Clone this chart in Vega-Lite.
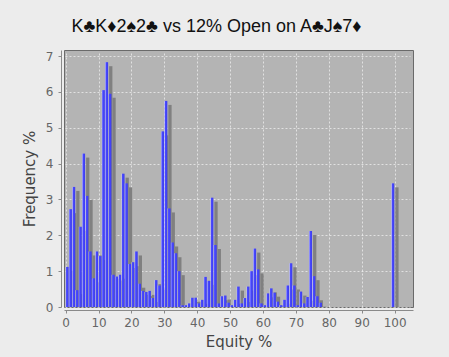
{
  "$schema": "https://vega.github.io/schema/vega-lite/v6.json",
  "width": 349,
  "height": 257,
  "autosize": "none",
  "padding": {"left": 64, "top": 50, "right": 36, "bottom": 50},
  "background": "#ececec",
  "title": {
    "text": "K♣K♦2♠2♣ vs 12% Open on A♣J♠7♦",
    "font": "Liberation Sans",
    "fontSize": 18,
    "fontWeight": "normal",
    "color": "#111111",
    "anchor": "middle",
    "frame": "group",
    "dx": -22,
    "offset": 14
  },
  "config": {
    "view": {"fill": "#b4b4b4", "stroke": "#6a6a6a", "strokeWidth": 1},
    "axis": {
      "labelFont": "DejaVu Sans",
      "labelFontSize": 12,
      "labelColor": "#666666",
      "titleFont": "DejaVu Sans",
      "titleFontSize": 15,
      "titleFontWeight": "normal",
      "titleColor": "#444444",
      "domainColor": "#8a8a8a",
      "tickColor": "#8a8a8a",
      "tickSize": 3,
      "offset": 3,
      "gridColor": "#ffffff",
      "gridOpacity": 0.6,
      "gridDash": [2, 2]
    }
  },
  "data": {
    "values": [
      {"lo": 0, "hi": 1, "f": 1.12},
      {"lo": 1, "hi": 2, "f": 2.73},
      {"lo": 2, "hi": 3, "f": 3.35},
      {"lo": 3, "hi": 4, "f": 0.47},
      {"lo": 4, "hi": 5, "f": 2.24},
      {"lo": 5, "hi": 6, "f": 4.28},
      {"lo": 6, "hi": 7, "f": 3.1},
      {"lo": 7, "hi": 8, "f": 1.55},
      {"lo": 8, "hi": 9, "f": 0.8},
      {"lo": 9, "hi": 10, "f": 1.55},
      {"lo": 10, "hi": 11, "f": 1.42},
      {"lo": 11, "hi": 12, "f": 6.05},
      {"lo": 12, "hi": 13, "f": 6.83},
      {"lo": 13, "hi": 14, "f": 5.95},
      {"lo": 14, "hi": 15, "f": 0.9},
      {"lo": 15, "hi": 16, "f": 0.85},
      {"lo": 16, "hi": 17, "f": 0.9},
      {"lo": 17, "hi": 18, "f": 3.72},
      {"lo": 18, "hi": 19, "f": 3.45},
      {"lo": 19, "hi": 20, "f": 1.2},
      {"lo": 20, "hi": 21, "f": 1.25},
      {"lo": 21, "hi": 22, "f": 1.55},
      {"lo": 22, "hi": 23, "f": 0.65},
      {"lo": 23, "hi": 24, "f": 0.45},
      {"lo": 24, "hi": 25, "f": 0.42},
      {"lo": 25, "hi": 26, "f": 0.45},
      {"lo": 26, "hi": 27, "f": 0.25},
      {"lo": 27, "hi": 28, "f": 0.75},
      {"lo": 28, "hi": 29, "f": 0.6},
      {"lo": 29, "hi": 30, "f": 4.9},
      {"lo": 30, "hi": 31, "f": 5.75},
      {"lo": 31, "hi": 32, "f": 2.75},
      {"lo": 32, "hi": 33, "f": 1.8},
      {"lo": 33, "hi": 34, "f": 1.5},
      {"lo": 34, "hi": 35, "f": 1.0},
      {"lo": 35, "hi": 36, "f": 0.05},
      {"lo": 36, "hi": 37, "f": 0.05},
      {"lo": 37, "hi": 38, "f": 0.1},
      {"lo": 38, "hi": 39, "f": 0.26},
      {"lo": 39, "hi": 40, "f": 0.26},
      {"lo": 40, "hi": 41, "f": 0.1},
      {"lo": 41, "hi": 42, "f": 0.2},
      {"lo": 42, "hi": 43, "f": 0.84},
      {"lo": 43, "hi": 44, "f": 0.73},
      {"lo": 44, "hi": 45, "f": 3.05},
      {"lo": 45, "hi": 46, "f": 1.73},
      {"lo": 46, "hi": 47, "f": 0.1},
      {"lo": 47, "hi": 48, "f": 0.3},
      {"lo": 48, "hi": 49, "f": 0.32},
      {"lo": 49, "hi": 50, "f": 0.12},
      {"lo": 50, "hi": 51, "f": 0.05},
      {"lo": 51, "hi": 52, "f": 0.2},
      {"lo": 52, "hi": 53, "f": 0.57},
      {"lo": 53, "hi": 54, "f": 0.1},
      {"lo": 54, "hi": 55, "f": 0.25},
      {"lo": 55, "hi": 56, "f": 0.57},
      {"lo": 56, "hi": 57, "f": 1.0},
      {"lo": 57, "hi": 58, "f": 1.63},
      {"lo": 58, "hi": 59, "f": 1.05},
      {"lo": 59, "hi": 60, "f": 0.1},
      {"lo": 60, "hi": 61, "f": 0.05},
      {"lo": 61, "hi": 62, "f": 0.38},
      {"lo": 62, "hi": 63, "f": 0.52},
      {"lo": 63, "hi": 64, "f": 0.4},
      {"lo": 64, "hi": 65, "f": 0.15},
      {"lo": 65, "hi": 66, "f": 0.05},
      {"lo": 66, "hi": 67, "f": 0.2},
      {"lo": 67, "hi": 68, "f": 0.6},
      {"lo": 68, "hi": 69, "f": 1.22},
      {"lo": 69, "hi": 70, "f": 0.6},
      {"lo": 70, "hi": 71, "f": 0.05},
      {"lo": 71, "hi": 72, "f": 0.43},
      {"lo": 72, "hi": 73, "f": 0.1},
      {"lo": 73, "hi": 74, "f": 0.28},
      {"lo": 74, "hi": 75, "f": 2.12},
      {"lo": 75, "hi": 76, "f": 0.86},
      {"lo": 76, "hi": 77, "f": 0.3},
      {"lo": 77, "hi": 78, "f": 0.12},
      {"lo": 99, "hi": 100, "f": 3.45}
    ]
  },
  "encoding": {
    "x": {
      "field": "lo",
      "type": "quantitative",
      "scale": {"domain": [-0.5, 105.6], "nice": false, "zero": false},
      "axis": {
        "title": "Equity %",
        "values": [0, 10, 20, 30, 40, 50, 60, 70, 80, 90, 100],
        "labelPadding": 4,
        "titlePadding": 6
      }
    },
    "x2": {"field": "hi"},
    "y": {
      "field": "f",
      "type": "quantitative",
      "scale": {"domain": [0, 7.17], "nice": false},
      "axis": {
        "title": "Frequency %",
        "values": [0, 1, 2, 3, 4, 5, 6, 7],
        "labelPadding": 5,
        "titlePadding": 8
      }
    },
    "y2": {"datum": 0}
  },
  "layer": [
    {
      "mark": {"type": "bar", "color": "#808080", "xOffset": 4, "x2Offset": 4, "yOffset": 4, "clip": true}
    },
    {
      "mark": {
        "type": "bar",
        "x2Offset": -0.3,
        "color": {
          "gradient": "linear",
          "x1": 0, "y1": 0, "x2": 1, "y2": 0,
          "stops": [
            {"offset": 0, "color": "#c8c8ff"},
            {"offset": 0.3, "color": "#4a4aff"},
            {"offset": 1, "color": "#3c3cee"}
          ]
        }
      }
    }
  ]
}
